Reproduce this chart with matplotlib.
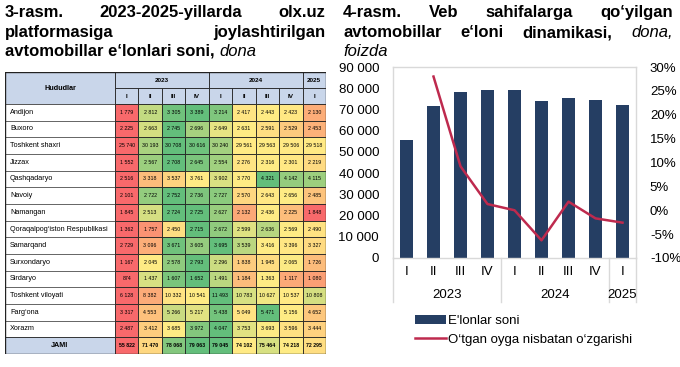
import numpy as np
import matplotlib
matplotlib.use("Agg")
import matplotlib.pyplot as plt
from matplotlib.colors import LinearSegmentedColormap
from matplotlib.patches import Rectangle
from matplotlib.lines import Line2D
import matplotlib.transforms as mtransforms

plt.rcParams['font.family'] = ['Liberation Sans', 'DejaVu Sans']

# ---- data ----
regions = ["Andijon", "Buxoro", "Toshkent shaxri", "Jizzax", "Qashqadaryo", "Navoiy",
           "Namangan", "Qoraqalpog‘iston Respublikasi", "Samarqand", "Surxondaryo",
           "Sirdaryo", "Toshkent viloyati", "Farg‘ona", "Xorazm"]
years = ["2023", "2024", "2025"]
year_spans = [4, 4, 1]
quarters = ["I", "II", "III", "IV", "I", "II", "III", "IV", "I"]

andijon = [1779, 2812, 3305, 3389, 3214, 2417, 2443, 2423, 2130]
buxoro = [2225, 2663, 2745, 2696, 2649, 2631, 2591, 2529, 2453]
toshkent_sh = [25740, 30193, 30708, 30616, 30240, 29561, 29563, 29506, 29518]
jizzax = [1552, 2567, 2708, 2645, 2554, 2276, 2316, 2301, 2219]
qashqadaryo = [2516, 3318, 3537, 3761, 3902, 3770, 4321, 4142, 4115]
navoiy = [2101, 2722, 2752, 2736, 2727, 2570, 2643, 2656, 2485]
namangan = [1845, 2513, 2724, 2725, 2627, 2132, 2436, 2225, 1848]
qoraqalpog = [1362, 1757, 2450, 2715, 2672, 2599, 2636, 2569, 2490]
samarqand = [2729, 3096, 3671, 3605, 3695, 3539, 3416, 3396, 3327]
surxondaryo = [1167, 2045, 2578, 2793, 2296, 1838, 1945, 2065, 1726]
sirdaryo = [874, 1437, 1607, 1652, 1491, 1184, 1363, 1117, 1080]
toshkent_v = [6128, 8382, 10332, 10541, 11493, 10783, 10627, 10537, 10808]
fargona = [3317, 4553, 5266, 5217, 5438, 5049, 5471, 5156, 4652]
xorazm = [2487, 3412, 3685, 3972, 4047, 3753, 3693, 3596, 3444]
jami = [55822, 71470, 78068, 79063, 79045, 74102, 75464, 74218, 72295]

# quarter-over-quarter change, % (no value for the first quarter)
change_pct = [28.0, 9.2, 1.3, 0.0, -6.3, 1.8, -1.7, -2.6]

rows = [andijon, buxoro, toshkent_sh, jizzax, qashqadaryo, navoiy, namangan,
        qoraqalpog, samarqand, surxondaryo, sirdaryo, toshkent_v, fargona, xorazm]

W, H = 680, 367
fig = plt.figure(figsize=(W / 100, H / 100), dpi=100)
renderer = fig.canvas.get_renderer()


def fx(px):
    return px / W


def fy(py):
    return 1 - py / H


def justify(parts, x0, x1, y, size=12):
    # parts: list of (text, style)
    texts = []
    for s, style in parts:
        t = fig.text(fx(x0), fy(y), s, fontsize=size, fontweight='bold' if style != 'italic' else 'normal',
                     fontstyle='italic' if style == 'italic' else 'normal', va='baseline', ha='left')
        texts.append(t)
    widths = [t.get_window_extent(renderer).width for t in texts]
    if len(texts) > 1:
        gap = (x1 - x0 - sum(widths)) / (len(texts) - 1)
    else:
        gap = 0
    x = x0
    for t, w in zip(texts, widths):
        t.set_x(fx(x))
        x += w + gap


def left_line(parts, x0, y, size=12):
    x = x0
    for s, style in parts:
        t = fig.text(fx(x), fy(y), s, fontsize=size, fontweight='bold' if style != 'italic' else 'normal',
                     fontstyle='italic' if style == 'italic' else 'normal', va='baseline', ha='left')
        x += t.get_window_extent(renderer).width


# ---- titles ----
justify([("3-rasm.", 'b'), ("2023-2025-yillarda", 'b'), ("olx.uz", 'b')], 5, 325, 17)
justify([("platformasiga", 'b'), ("joylashtirilgan", 'b')], 5, 325, 37)
left_line([("avtomobillar e‘lonlari soni, ", 'b'), ("dona", 'italic')], 5, 56)

justify([("4-rasm.", 'b'), ("Veb", 'b'), ("sahifalarga", 'b'), ("qo‘yilgan", 'b')], 343, 673, 17)
justify([("avtomobillar", 'b'), ("e‘loni", 'b'), ("dinamikasi,", 'b'), ("dona,", 'italic')], 343, 673, 37)
left_line([("foizda", 'italic')], 343, 56)

# ---- heatmap table ----
tab = fig.add_axes([fx(5), fy(354), fx(321), 282 / H])
tab.set_xlim(0, 321)
tab.set_ylim(282, 0)
tab.axis('off')

label_w = 110
col_w = (321 - label_w) / 9
hdr_h = 16
row_h = 250 / 15
header_fc = '#C9D6EA'
edge = '#222222'
cmap = LinearSegmentedColormap.from_list('ryg', ['#F8696B', '#FFEB84', '#63BE7B'])


def cell(x, y, w, h, fc, lw=0.6):
    tab.add_patch(Rectangle((x, y), w, h, facecolor=fc, edgecolor=edge, linewidth=lw))


cell(0, 0, label_w, 2 * hdr_h, header_fc)
tab.text(label_w / 2, hdr_h, "Hududlar", ha='center', va='center', fontsize=5.2, fontweight='bold')
c = 0
for yr, span in zip(years, year_spans):
    cell(label_w + c * col_w, 0, span * col_w, hdr_h, header_fc)
    tab.text(label_w + (c + span / 2) * col_w, hdr_h / 2, yr, ha='center', va='center',
             fontsize=4.6, fontweight='bold')
    c += span
for j, q in enumerate(quarters):
    cell(label_w + j * col_w, hdr_h, col_w, hdr_h, header_fc)
    tab.text(label_w + (j + 0.5) * col_w, hdr_h * 1.5, q, ha='center', va='center',
             fontsize=4.6, fontweight='bold')

all_rows = rows + [jami]
all_names = regions + ["JAMI"]
for i, (name, vals) in enumerate(zip(all_names, all_rows)):
    y = 2 * hdr_h + i * row_h
    is_total = name == "JAMI"
    if is_total:
        cell(0, y, label_w, row_h, header_fc)
        tab.text(label_w / 2, y + row_h / 2, name, ha='center', va='center', fontsize=5.2, fontweight='bold')
    else:
        cell(0, y, label_w, row_h, 'white', lw=0.4)
        tab.text(5, y + row_h / 2, name, ha='left', va='center', fontsize=5.2)
    v = np.array(vals, dtype=float)
    vmin, vmed, vmax = v.min(), np.median(v), v.max()
    for j, val in enumerate(vals):
        if val <= vmed:
            f = 0.5 * (val - vmin) / (vmed - vmin)
        else:
            f = 0.5 + 0.5 * (val - vmed) / (vmax - vmed)
        cell(label_w + j * col_w, y, col_w, row_h, cmap(f))
        tab.text(label_w + (j + 0.5) * col_w, y + row_h / 2, f"{val:,}".replace(",", " "),
                 ha='center', va='center', fontsize=3.8, fontweight='bold' if is_total else 'normal')
tab.add_patch(Rectangle((0, 0), 321, 282, facecolor='none', edgecolor=edge, linewidth=1.0))

# ---- bar + line chart ----
bar_color = '#253E63'
line_color = '#BE2A4E'
ax = fig.add_axes([fx(393), fy(258), fx(636 - 393), (258 - 67) / H])
x = np.arange(len(jami))
ax.bar(x, jami, width=0.45, color=bar_color, zorder=2)
ax.set_xlim(-0.5, 8.5)
ax.set_ylim(0, 90000)
ax.set_yticks(range(0, 90001, 10000))
ax.set_yticklabels([f"{t:,}".replace(",", " ") for t in range(0, 90001, 10000)])
ax.set_xticks([])
ax.tick_params(axis='y', length=0, pad=10, labelsize=9.5)
for s in ax.spines.values():
    s.set_color('#D9D9D9')
    s.set_linewidth(1.0)

ax2 = ax.twinx()
ax2.plot(x[1:], change_pct, color=line_color, linewidth=1.8, zorder=3)
ax2.set_ylim(-10, 30)
ax2.set_yticks(range(-10, 31, 5))
ax2.set_yticklabels([f"{t}%" for t in range(-10, 31, 5)])
ax2.tick_params(axis='y', length=0, pad=10, labelsize=9.5)
for s in ax2.spines.values():
    s.set_visible(False)

trans = mtransforms.blended_transform_factory(ax.transData, ax.transAxes)
axh = 258 - 67
for i, q in enumerate(quarters):
    ax.text(i, -14 / axh, q, transform=trans, ha='center', va='center', fontsize=9.5)
c = 0
bounds = [-0.5]
for yr, span in zip(years, year_spans):
    ax.text(c - 0.5 + span / 2, -37 / axh, yr, transform=trans, ha='center', va='center', fontsize=9.5)
    c += span
    bounds.append(c - 0.5)
for b in bounds:
    ax.add_line(Line2D([b, b], [0, -44 / axh], transform=trans, color='#D9D9D9',
                       linewidth=1.0, clip_on=False))

handles = [Rectangle((0, 0), 1, 1, facecolor=bar_color),
           Line2D([0], [0], color=line_color, linewidth=1.8)]
fig.legend(handles, ["E'lonlar soni", "O‘tgan oyga nisbatan o‘zgarishi"],
           loc='upper left', bbox_to_anchor=(fx(410), fy(310)), frameon=False,
           fontsize=9.5, handlelength=2.3, handleheight=0.6, handletextpad=0.2,
           labelspacing=0.5, borderaxespad=0)

fig.savefig("out.png", dpi=100)
